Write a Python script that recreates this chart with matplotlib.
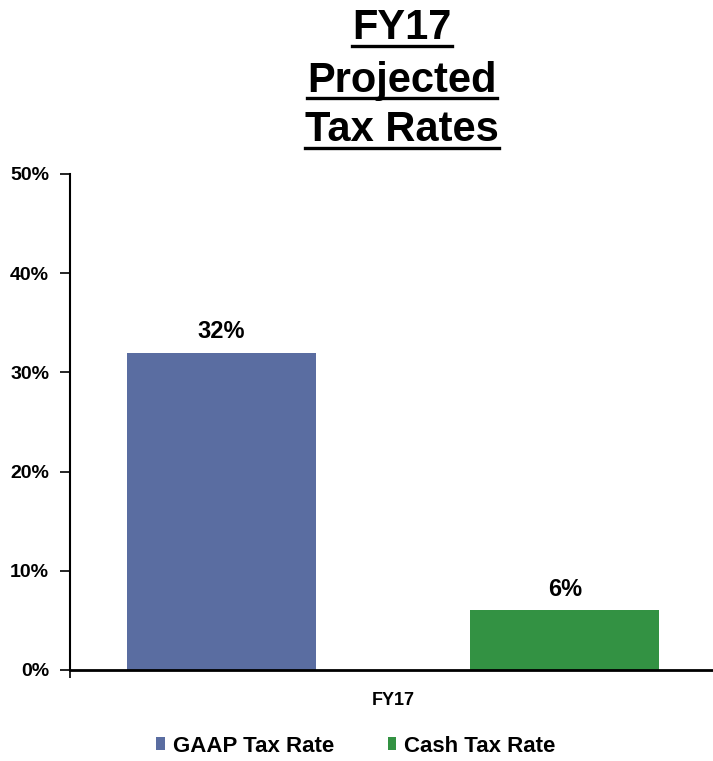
import matplotlib
matplotlib.use("Agg")
import matplotlib.pyplot as plt
from matplotlib.lines import Line2D
from matplotlib.patches import Patch

plt.rcParams['font.family'] = ['Liberation Sans', 'DejaVu Sans']

# Data
categories = ["FY17"]
series_names = ["GAAP Tax Rate", "Cash Tax Rate"]
series_values = [32, 6]
series_colors = ["#5A6DA1", "#339243"]
y_ticks = [0, 10, 20, 30, 40, 50]
y_tick_labels = ["0%", "10%", "20%", "30%", "40%", "50%"]
title_lines = ["FY17", "Projected", "Tax Rates"]

W, H = 713, 761
fig = plt.figure(figsize=(W / 100, H / 100), dpi=100)
fig.patch.set_facecolor("white")

# plot area: pixels x 70..716, y 174..670 (from top)
ax = fig.add_axes([70 / W, 1 - 670 / H, 646 / W, (670 - 174) / H])

bar_width = 0.293
offsets = [-0.266, 0.266]
for name, val, col, off in zip(series_names, series_values, series_colors, offsets):
    ax.bar(off, val, width=bar_width, color=col, label=name, zorder=2)
    ax.text(off, val + 1.45, f"{val}%", ha="center", va="baseline",
            fontsize=17, fontweight="bold")

ax.set_xlim(-0.5, 0.5)
ax.set_ylim(0, 50)
ax.set_yticks(y_ticks)
ax.set_yticklabels(y_tick_labels, fontsize=14, fontweight="bold")
ax.set_xticks([0])
ax.set_xticklabels(categories, fontsize=13, fontweight="bold")
ax.tick_params(axis="x", length=0, pad=16)
ax.set_xticks([-0.5, 0.5], minor=True)
ax.tick_params(axis="x", which="minor", length=6, width=1.2, direction="out")
ax.tick_params(axis="y", length=7, width=1.2, direction="out", pad=8)

for s in ["top", "right"]:
    ax.spines[s].set_visible(False)
ax.spines["left"].set_linewidth(1.5)
ax.spines["bottom"].set_linewidth(2)

# Legend
handles = [Patch(facecolor=c, edgecolor="none") for c in series_colors]
fig.legend(handles, series_names, loc="center", bbox_to_anchor=(356 / W, 1 - 746 / H),
           ncol=2, frameon=False, prop={"size": 16, "weight": "bold"},
           handlelength=0.4, handleheight=0.5, handletextpad=0.35, columnspacing=2.4)

# Title lines with underlines
baselines = [39, 92, 141]
underlines = [46, 98, 148]
cx = 402 / W
texts = []
for line, b in zip(title_lines, baselines):
    t = fig.text(cx, 1 - b / H, line, ha="center", va="baseline",
                 fontsize=30, fontweight="bold")
    texts.append(t)

fig.canvas.draw()
renderer = fig.canvas.get_renderer()
for t, u in zip(texts, underlines):
    bb = t.get_window_extent(renderer)
    x0, x1 = bb.x0 / W, bb.x1 / W
    fig.add_artist(Line2D([x0, x1], [1 - u / H, 1 - u / H], transform=fig.transFigure,
                          color="black", linewidth=2.4))

fig.savefig("out.png", dpi=100)
